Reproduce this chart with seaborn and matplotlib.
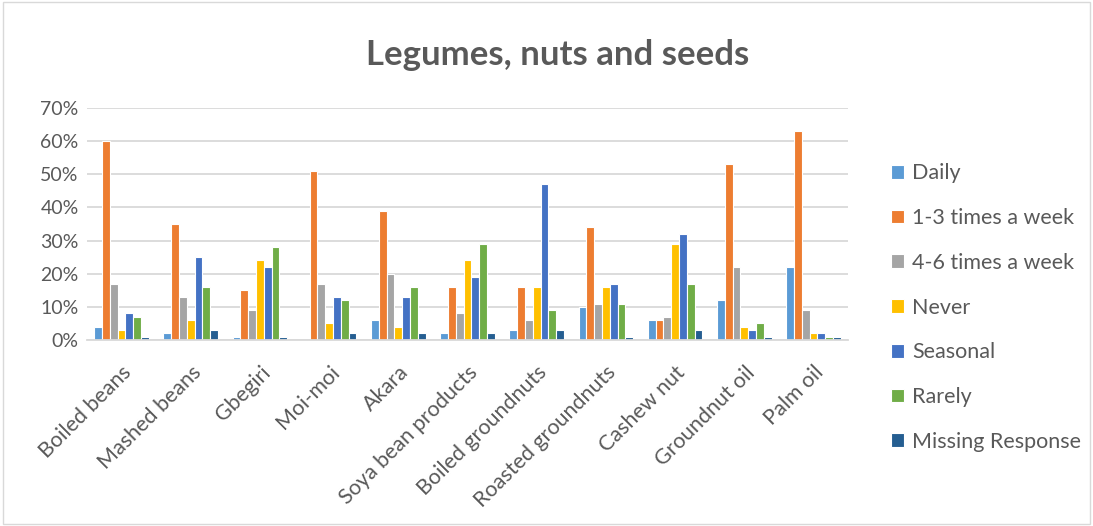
import matplotlib
matplotlib.use("Agg")
import matplotlib.pyplot as plt
from matplotlib.patches import Rectangle
import pandas as pd
import seaborn as sns

foods = ["Boiled beans", "Mashed beans", "Gbegiri", "Moi-moi", "Akara",
         "Soya bean products", "Boiled groundnuts", "Roasted groundnuts",
         "Cashew nut", "Groundnut oil", "Palm oil"]

# Share of respondents (%) per consumption frequency
daily = [4, 2, 1, 0, 6, 2, 3, 10, 6, 12, 22]
times_1_3 = [60, 35, 15, 51, 39, 16, 16, 34, 6, 53, 63]
times_4_6 = [17, 13, 9, 17, 20, 8, 6, 11, 7, 22, 9]
never = [3, 6, 24, 5, 4, 24, 16, 16, 29, 4, 2]
seasonal = [8, 25, 22, 13, 13, 19, 47, 17, 32, 3, 2]
rarely = [7, 16, 28, 12, 16, 29, 9, 11, 17, 5, 1]
missing = [1, 3, 1, 2, 2, 2, 3, 1, 3, 1, 1]

freq_labels = ["Daily", "1-3 times a week", "4-6 times a week", "Never",
               "Seasonal", "Rarely", "Missing Response"]
series = [daily, times_1_3, times_4_6, never, seasonal, rarely, missing]
colors = ["#5B9BD5", "#ED7D31", "#A5A5A5", "#FFC000", "#4472C4", "#70AD47", "#255E91"]

rows = []
for label, vals in zip(freq_labels, series):
    for food, v in zip(foods, vals):
        rows.append({"food": food, "freq": label, "value": v / 100})
df = pd.DataFrame(rows)

sns.set_theme(style="white")
plt.rcParams["font.family"] = ["Lato", "DejaVu Sans"]
text_color = "#595959"

fig = plt.figure(figsize=(10.93, 5.26), dpi=100)
ax = fig.add_axes([87 / 1093, 1 - 340 / 526, (848 - 87) / 1093, (340 - 108) / 526])

sns.barplot(data=df, x="food", y="value", hue="freq", order=foods,
            hue_order=freq_labels, palette=colors, saturation=1, width=0.79,
            edgecolor="white", linewidth=0.8, ax=ax, legend=True)

ax.set_ylim(0, 0.70)
ax.set_yticks([i / 10 for i in range(8)])
ax.set_yticklabels([f"{i * 10}%" for i in range(8)], color=text_color, fontsize=14)
ax.yaxis.grid(True, color="#D9D9D9", linewidth=1.3)
ax.set_axisbelow(True)
for side in ["top", "right", "left"]:
    ax.spines[side].set_visible(False)
ax.spines["bottom"].set_color("#D9D9D9")
ax.spines["bottom"].set_linewidth(1.3)
ax.tick_params(axis="y", length=0, pad=6)
ax.tick_params(axis="x", length=0, pad=16)
ax.set_xlim(-0.5, len(foods) - 0.5)
ax.set_xlabel("")
ax.set_ylabel("")
plt.setp(ax.get_xticklabels(), rotation=45, ha="right", rotation_mode="anchor",
         color=text_color, fontsize=15.5)

handles, labels = ax.get_legend_handles_labels()
ax.get_legend().remove()
fig.legend(handles, labels, loc="upper left", bbox_to_anchor=(872 / 1093, 1 - 144 / 526),
           frameon=False, fontsize=15.5, labelcolor=text_color, handlelength=0.6,
           handleheight=0.6, handletextpad=0.35, labelspacing=1.15)

fig.text(0.51, 1 - 55 / 526, "Legumes, nuts and seeds", ha="center", va="center",
         fontsize=25, fontweight="bold", color=text_color)

fig.patches.append(Rectangle((0.003, 0.004), 0.994, 0.993, transform=fig.transFigure,
                             fill=False, edgecolor="#D9D9D9", linewidth=1.0))

fig.savefig("out.png", dpi=100)
